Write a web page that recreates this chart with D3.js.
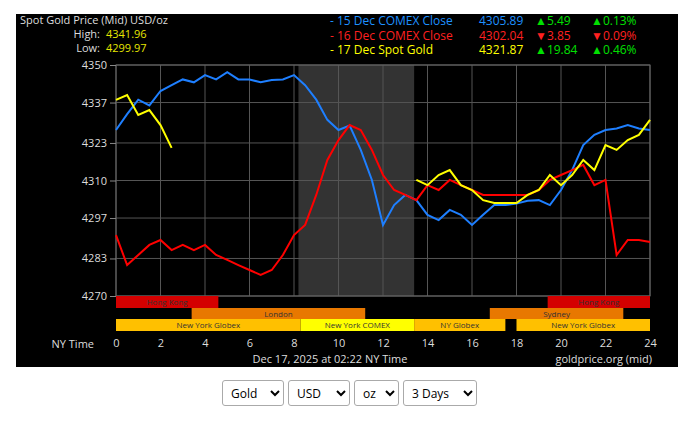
<!DOCTYPE html><html><head><meta charset="utf-8"><script src="https://cdn.jsdelivr.net/npm/d3@7"></script>
<style>body{margin:0;background:#fff;font-family:"Open Sans",sans-serif}
#sel{position:absolute;top:380px;left:222px;display:flex;gap:4px}
select{font-family:"Open Sans";font-size:12px;height:26px;background:#fff;border:1px solid #aaa;border-radius:3px;padding:0 4px}</style></head><body>
<svg id="c" width="695" height="421" style="position:absolute;left:0;top:0"></svg>
<div id="sel"><select style="width:62px"><option>Gold</option></select><select style="width:62px"><option>USD</option></select><select style="width:45px"><option>oz</option></select><select style="width:74px"><option>3 Days</option></select></div>
<script>
const hours=d3.range(0,24.01,0.5);
const yTicks=[4270,4283,4297,4310,4323,4337,4350];
const xTicks=[0,2,4,6,8,10,12,14,16,18,20,22,24];
const blue=[4327.5,4333,4338,4336,4341,4343,4345,4344,4346.5,4345,4347.5,4345,4345,4344,4344.8,4345,4346.5,4343,4338,4331,4327.5,4329,4320.6,4310.2,4294.6,4301.5,4305,4303.2,4298.1,4296.3,4299.8,4298.1,4294.6,4298.1,4301.5,4301.5,4302,4303,4303.2,4301.5,4306.7,4313.6,4322.3,4325.8,4327.5,4328,4329.2,4328,4327.5];
const red=[4291.1,4280.7,4284.2,4287.7,4289.4,4285.9,4287.7,4285.9,4287.7,4284.2,4282.5,4280.7,4279,4277.3,4279,4284.2,4291.1,4294.6,4305,4317.1,4324,4329.2,4327.5,4320.6,4311.9,4306.7,4305,4303.2,4308.4,4306.7,4310.2,4308.4,4306.7,4305,4305,4305,4305,4305,4306.7,4310.2,4311.9,4313.6,4315.4,4308.4,4310.2,4284.2,4289.4,4289.4,4288.7];
const yellow=[4337.9,4339.6,4332.7,4334.4,4329.2,4321.3,null,null,null,null,null,null,null,null,null,null,null,null,null,null,null,null,null,null,null,null,null,4310.2,4308.4,4311.9,4313.6,4308.4,4306.7,4303.2,4302.2,4302.2,4302.2,4305,4306.7,4311.9,4308.4,4311.9,4317.1,4313.6,4322.3,4320.6,4324,4325.8,4331];
const sessions=[["Hong Kong",0,4.6,0,"#d40000"],["Hong Kong",19.4,24,0,"#d40000"],["London",3.4,11.2,1,"#e87800"],["Sydney",16.8,22.8,1,"#e87800"],["New York Globex",0,8.3,2,"#ffc000"],["New York COMEX",8.3,13.4,2,"#ffff00"],["NY Globex",13.4,17.5,2,"#ffc000"],["New York Globex",18,24,2,"#ffc000"]];
const legend=[["15 Dec COMEX Close","4305.89","▲5.49","▲0.13%","#1e90ff","#00e000"],["16 Dec COMEX Close","4302.04","▼3.85","▼0.09%","#ff2020","#ff2020"],["17 Dec Spot Gold","4321.87","▲19.84","▲0.46%","#ffff00","#00e000"]];
const svg=d3.select("#c");
svg.append("rect").attr("x",16).attr("y",14).attr("width",662).attr("height",353).attr("fill","#000");
const x=d3.scaleLinear().domain([0,24]).range([116,650]);
const y=d3.scaleLinear().domain([4270,4350]).range([296,65]);
svg.append("rect").attr("x",x(8.2)).attr("y",65).attr("width",x(13.4)-x(8.2)).attr("height",231).attr("fill","#333");
const g=svg.append("g");
xTicks.forEach(t=>g.append("line").attr("x1",x(t)).attr("x2",x(t)).attr("y1",65).attr("y2",296).attr("stroke","#555"));
yTicks.forEach(t=>g.append("line").attr("x1",x(0)).attr("x2",x(24)).attr("y1",y(t)).attr("y2",y(t)).attr("stroke","#555"));
svg.append("rect").attr("x",116).attr("y",65).attr("width",534).attr("height",231).attr("fill","none").attr("stroke","#666");
svg.append("g").attr("transform","translate(116,0)").call(d3.axisLeft(y).tickValues(yTicks).tickSize(6).tickFormat(d3.format("d"))).call(a=>{a.select(".domain").remove();a.selectAll("line").attr("stroke","#888");a.selectAll("text").attr("fill","#ddd").attr("font-size",11).attr("font-family","Open Sans")});
svg.append("g").attr("transform","translate(0,336)").call(d3.axisBottom(x).tickValues(xTicks).tickSize(0).tickFormat(d3.format("d"))).call(a=>{a.select(".domain").remove();a.selectAll("text").attr("fill","#ddd").attr("font-size",11).attr("font-family","Open Sans")});
const rows=[296,308,319],rh=[12,11,12];
sessions.forEach(s=>{svg.append("rect").attr("x",x(s[1])).attr("y",rows[s[3]]).attr("width",x(s[2])-x(s[1])).attr("height",rh[s[3]]).attr("fill",s[4]);
svg.append("text").attr("x",(x(s[1])+x(s[2]))/2).attr("y",rows[s[3]]+rh[s[3]]/2+3).attr("text-anchor","middle").attr("font-size",8).attr("fill","#333").text(s[0]);});
const line=d3.line().defined(d=>d!=null).x((d,i)=>x(hours[i])).y(d=>y(d));
[[blue,"#1e7fff"],[red,"#ff0000"],[yellow,"#ffff00"]].forEach(([d,c])=>svg.append("path").datum(d).attr("d",line).attr("fill","none").attr("stroke",c).attr("stroke-width",2));
const T=(t,xx,yy,c,a,fs)=>svg.append("text").attr("x",xx).attr("y",yy).attr("fill",c).attr("font-size",fs||11).attr("text-anchor",a||"start").text(t);
T("Spot Gold Price (Mid) USD/oz",20,24,"#ddd");T("High:",100,38,"#ddd","end");T("4341.96",106,38,"#e6e600");T("Low:",100,52,"#ddd","end");T("4299.97",106,52,"#e6e600");
legend.forEach((l,i)=>{const yy=25+i*14.5;T("- "+l[0],330,yy,l[4],"start",12);T(l[1],479,yy,l[4],"start",12);T(l[2],535,yy,l[5],"start",12);T(l[3],591,yy,l[5],"start",12);});
T("NY Time",94,348,"#ddd","end");T("Dec 17, 2025 at 02:22 NY Time",330,363,"#ddd","middle");T("goldprice.org (mid)",652,363,"#ddd","end");
</script></body></html>
